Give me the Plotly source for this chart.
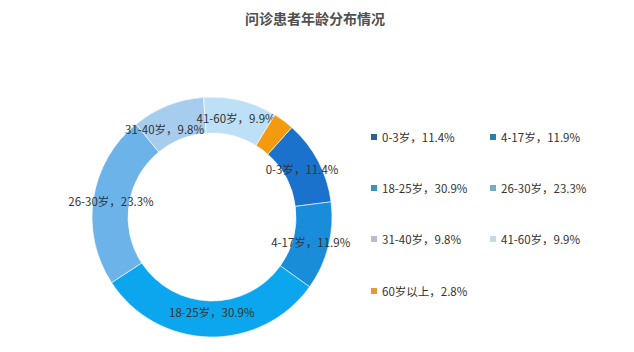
import plotly.graph_objects as go

title_text = "问诊患者年龄分布情况"
categories = ["0-3岁", "4-17岁", "18-25岁", "26-30岁", "31-40岁", "41-60岁", "60岁以上"]
shares = [11.4, 11.9, 30.9, 23.3, 9.8, 9.9, 2.8]
# the reference shows no ring label for the smallest slice; the 31-40 label is set apart (annotation)
ring_label_mode = ["pie", "pie", "pie", "pie", "annot", "pie", "none"]

slice_colors = ["#1a72cd", "#1a8dda", "#0ba6ee", "#6cb3ea", "#a7cdee", "#bde0f6", "#f39a0e"]
legend_colors = ["#2f5f8f", "#2a7fa6", "#3895b8", "#7ca9c2", "#b5bdd3", "#c6d9e2", "#e3993e"]

ROTATION = 41.7
FONT = "Noto Sans CJK SC, Microsoft YaHei, sans-serif"
W, H = 634, 352

labels_text = [f"{c}，{v}%" for c, v in zip(categories, shares)]
ring_text = [t if m == "pie" else "" for t, m in zip(labels_text, ring_label_mode)]

dom_x = [(212 - 120) / W, (212 + 120) / W]
dom_y = [(H - 217 - 120) / H, (H - 217 + 120) / H]

fig = go.Figure()
fig.add_trace(go.Pie(
    labels=categories, values=shares, sort=False, direction="clockwise",
    rotation=ROTATION, hole=0.70,
    marker=dict(colors=slice_colors, line=dict(color="rgba(255,255,255,0.6)", width=1)),
    text=ring_text, textinfo="text", textposition="inside",
    insidetextorientation="horizontal",
    textfont=dict(family=FONT, size=11.5, color="#333333"),
    hoverinfo="label+percent", showlegend=False,
    domain=dict(x=dom_x, y=dom_y),
))

anns = [dict(
    text=f"<b>{title_text}</b>", x=315 / W, y=1 - 18 / H, xref="paper", yref="paper",
    showarrow=False, xanchor="center", yanchor="middle",
    font=dict(family=FONT, size=14, color="#505050"),
)]
# ring label placed slightly apart to avoid clashing with its neighbour
for t, m in zip(labels_text, ring_label_mode):
    if m == "annot":
        anns.append(dict(
            text=t, x=164 / W, y=1 - 129 / H, xref="paper", yref="paper",
            showarrow=False, xanchor="center", yanchor="middle",
            font=dict(family=FONT, size=11.5, color="#333333"),
        ))

# custom legend (two columns)
col_x = [380, 499]
row_y = [137, 188, 239, 291]
shapes = []
for i, t in enumerate(labels_text):
    cx = col_x[i % 2]
    cy = row_y[i // 2]
    shapes.append(dict(
        type="rect", xref="paper", yref="paper",
        x0=(cx - 9) / W, x1=(cx - 3) / W, y0=1 - (cy + 3) / H, y1=1 - (cy - 3) / H,
        fillcolor=legend_colors[i], line=dict(width=0),
    ))
    anns.append(dict(
        text=t, x=cx / W, y=1 - cy / H, xref="paper", yref="paper",
        showarrow=False, xanchor="left", yanchor="middle",
        font=dict(family=FONT, size=11.5, color="#333333"),
    ))

fig.update_layout(
    width=W, height=H, margin=dict(l=0, r=0, t=0, b=0),
    paper_bgcolor="white", plot_bgcolor="white",
    uniformtext=dict(minsize=11.5, mode="show"),
    annotations=anns, shapes=shapes,
)

fig.write_html("out.html")
